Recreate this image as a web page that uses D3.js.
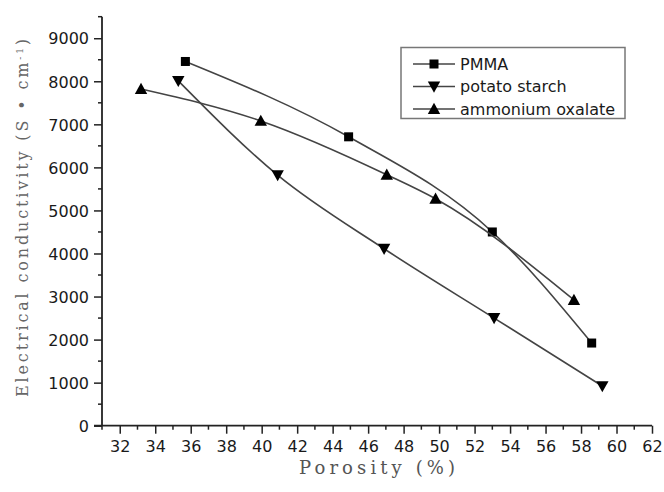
<!DOCTYPE html>
<html>
<head>
<meta charset="utf-8">
<script src="https://cdn.jsdelivr.net/npm/d3@7"></script>
<style>
  html, body { margin: 0; padding: 0; background: #fff; }
  svg { display: block; }
</style>
</head>
<body>
<svg id="chart" width="664" height="492"></svg>
<script>
// Porosity (%) and electrical conductivity (S·cm^-1) for three pore formers
const pmmaPorosity = [35.7, 44.9, 53.0, 58.6];
const pmmaConductivity = [8460, 6710, 4500, 1920];

const starchPorosity = [35.3, 40.9, 46.9, 53.1, 59.2];
const starchConductivity = [8010, 5820, 4110, 2500, 920];

const oxalatePorosity = [33.2, 39.95, 47.05, 49.8, 57.6];
const oxalateConductivity = [7820, 7080, 5830, 5270, 2920];

const seriesNames = ["PMMA", "potato starch", "ammonium oxalate"];
const seriesSymbols = ["square", "triangleDown", "triangleUp"];

const xTickValues = d3.range(32, 63, 2);
const yTickValues = d3.range(0, 9001, 1000);

const series = [
  { name: seriesNames[0], symbol: seriesSymbols[0], x: pmmaPorosity, y: pmmaConductivity },
  { name: seriesNames[1], symbol: seriesSymbols[1], x: starchPorosity, y: starchConductivity },
  { name: seriesNames[2], symbol: seriesSymbols[2], x: oxalatePorosity, y: oxalateConductivity }
];

const svg = d3.select("#chart");
const plotLeft = 102, plotRight = 652, plotTop = 16.7, plotBottom = 425.7;

const x = d3.scaleLinear().domain([31, 62]).range([plotLeft, plotRight]);
const y = d3.scaleLinear().domain([0, 9500]).range([plotBottom, plotTop]);

const axisColor = "#222";
const tickFont = "DejaVu Sans, Arial, sans-serif";
const titleFont = "DejaVu Serif, Liberation Serif, serif";

// Marker shapes
function drawMarker(g, kind, cx, cy) {
  if (kind === "square") {
    g.append("rect").attr("x", cx - 4.5).attr("y", cy - 4.5)
      .attr("width", 9).attr("height", 9).attr("fill", "#000");
  } else {
    const s = 6.2, dir = kind === "triangleUp" ? -1 : 1;
    const pts = [[cx, cy + dir * s], [cx - s, cy - dir * s * 0.8], [cx + s, cy - dir * s * 0.8]];
    g.append("path").attr("d", "M" + pts.map(p => p.join(",")).join("L") + "Z").attr("fill", "#000");
  }
}

// Y axis: majors every 1000, minors every 500
const yAxisG = svg.append("g").attr("transform", `translate(${plotLeft},0)`);
yAxisG.call(d3.axisLeft(y).tickValues(yTickValues).tickFormat(d3.format("d"))
    .tickSize(8).tickSizeOuter(0).tickPadding(5))
  .call(g => g.select(".domain").remove());
yAxisG.selectAll(".tick line").attr("stroke", axisColor).attr("stroke-width", 1.5);
yAxisG.selectAll(".tick text").attr("font-family", tickFont).attr("font-size", 16)
  .attr("fill", "#1a1a1a").attr("dy", "0.36em");
yAxisG.append("g").selectAll("line")
  .data(d3.range(500, 9501, 1000)).join("line")
  .attr("x1", -4).attr("x2", 0).attr("y1", d => y(d)).attr("y2", d => y(d))
  .attr("stroke", axisColor).attr("stroke-width", 1.5);

// X axis: majors every 2, minors every 1
const xAxisG = svg.append("g").attr("transform", `translate(0,${plotBottom})`);
xAxisG.call(d3.axisBottom(x).tickValues(xTickValues).tickFormat(d3.format("d"))
    .tickSize(8).tickSizeOuter(0).tickPadding(7))
  .call(g => g.select(".domain").remove());
xAxisG.selectAll(".tick line").attr("stroke", axisColor).attr("stroke-width", 1.5);
xAxisG.selectAll(".tick text").attr("font-family", tickFont).attr("font-size", 16).attr("fill", "#1a1a1a");
xAxisG.append("g").selectAll("line")
  .data(d3.range(31, 62, 2)).join("line")
  .attr("x1", d => x(d)).attr("x2", d => x(d)).attr("y1", 0).attr("y2", 4)
  .attr("stroke", axisColor).attr("stroke-width", 1.5);

// Axis lines
svg.append("line").attr("x1", plotLeft).attr("x2", plotLeft).attr("y1", plotTop).attr("y2", plotBottom)
  .attr("stroke", axisColor).attr("stroke-width", 1.8);
svg.append("line").attr("x1", plotLeft - 8).attr("x2", plotRight).attr("y1", plotBottom).attr("y2", plotBottom)
  .attr("stroke", axisColor).attr("stroke-width", 1.8);

// Axis titles
svg.append("text")
  .attr("x", 377).attr("y", 474)
  .attr("text-anchor", "middle")
  .attr("font-family", titleFont)
  .attr("font-size", 18).attr("fill", "#555")
  .attr("textLength", 156).attr("lengthAdjust", "spacing")
  .text("Porosity (%)");

const yTitle = svg.append("text")
  .attr("transform", "translate(28,218) rotate(-90)")
  .attr("text-anchor", "middle")
  .attr("font-family", titleFont)
  .attr("font-size", 16).attr("fill", "#666")
  .attr("textLength", 358).attr("lengthAdjust", "spacing");
yTitle.append("tspan").text("Electrical conductivity (S \u2022 cm");
yTitle.append("tspan").attr("baseline-shift", "super").attr("font-size", 9).text("-1");
yTitle.append("tspan").text(")");

// Series curves and markers
const line = d3.line().x(d => x(d[0])).y(d => y(d[1])).curve(d3.curveMonotoneX);

series.forEach(s => {
  const pts = s.x.map((v, i) => [v, s.y[i]]);
  svg.append("path").attr("d", line(pts))
    .attr("fill", "none").attr("stroke", "#444").attr("stroke-width", 1.6);
  const mg = svg.append("g");
  pts.forEach(p => drawMarker(mg, s.symbol, x(p[0]), y(p[1])));
});

// Legend
const legend = svg.append("g");
legend.append("rect").attr("x", 401).attr("y", 47.5).attr("width", 224).attr("height", 71)
  .attr("fill", "#fff").attr("stroke", "#777").attr("stroke-width", 1.5);
series.forEach((s, i) => {
  const cy = 64 + i * 22.5;
  legend.append("line").attr("x1", 413).attr("x2", 455).attr("y1", cy).attr("y2", cy)
    .attr("stroke", "#444").attr("stroke-width", 1.6);
  drawMarker(legend, s.symbol, 434, cy);
  legend.append("text").attr("x", 460).attr("y", cy).attr("dy", "0.36em")
    .attr("font-family", tickFont).attr("font-size", 16).attr("fill", "#1a1a1a")
    .text(s.name);
});
</script>
</body>
</html>
